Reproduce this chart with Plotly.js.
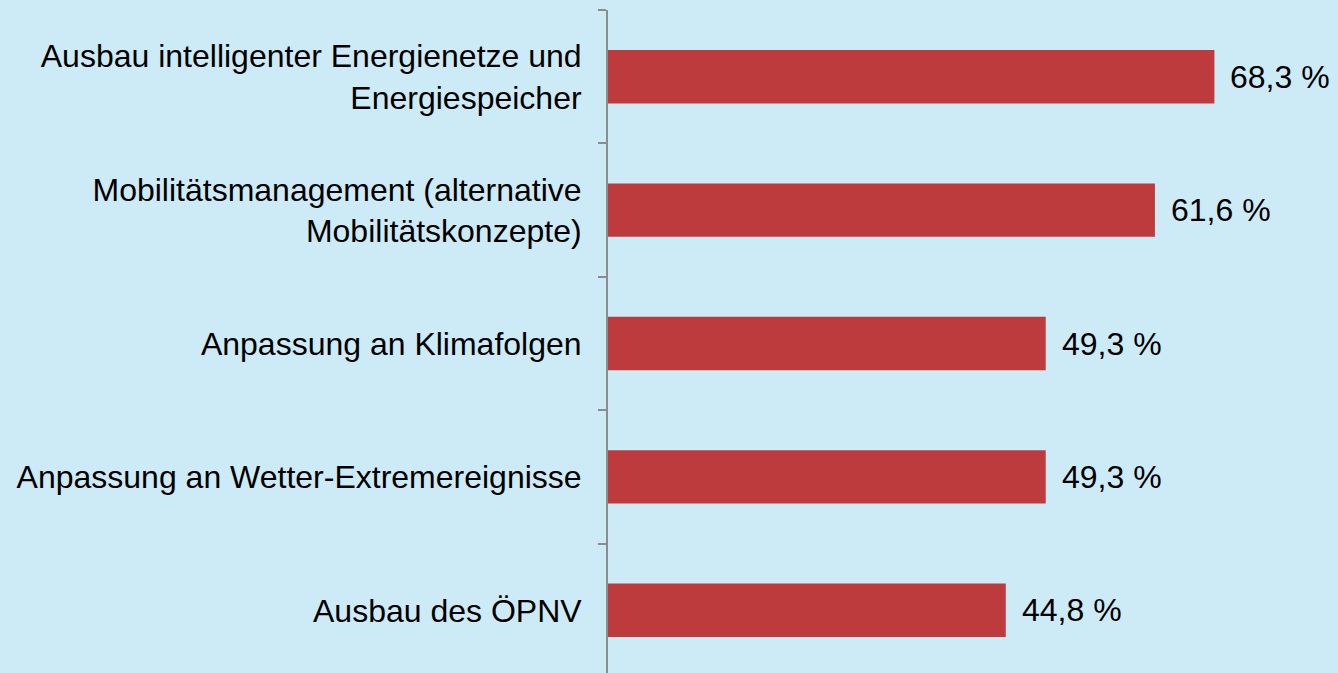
<!DOCTYPE html>
<html>
<head>
<meta charset="utf-8">
<script src="https://cdn.plot.ly/plotly-3.0.1.min.js"></script>
<style>
  html, body { margin: 0; padding: 0; background: #CDEBF7; }
  #chart { width: 1338px; height: 673px; }
</style>
</head>
<body>
<div id="chart"></div>
<script>
// Categories from top to bottom
const categories = [
  "Ausbau intelligenter Energienetze und<br>Energiespeicher",
  "Mobilitätsmanagement (alternative<br>Mobilitätskonzepte)",
  "Anpassung an Klimafolgen",
  "Anpassung an Wetter-Extremereignisse",
  "Ausbau des ÖPNV"
];
const values = [68.3, 61.6, 49.3, 49.3, 44.8];
const valueLabels = ["68,3 %", "61,6 %", "49,3 %", "49,3 %", "44,8 %"];

const FONT = "'Liberation Sans', Arial, sans-serif";

const trace = {
  type: "bar",
  orientation: "h",
  x: values,
  y: categories,
  marker: { color: "#BE3B3D", line: { width: 0 } },
  hoverinfo: "x+y"
};

const annotations = values.map((v, i) => ({
  x: v,
  y: categories[i],
  xref: "x",
  yref: "y",
  text: valueLabels[i],
  showarrow: false,
  xanchor: "left",
  yanchor: "middle",
  xshift: 14,
  font: { family: FONT, size: 32, color: "#000000" }
}));

const layout = {
  width: 1338,
  height: 673,
  paper_bgcolor: "#CDEBF7",
  plot_bgcolor: "#CDEBF7",
  margin: { l: 608, r: 65, t: 10, b: 0, pad: 0 },
  bargap: 0.6,
  showlegend: false,
  font: { family: FONT, size: 32, color: "#000000" },
  xaxis: {
    range: [0, 74.9],
    visible: false,
    showgrid: false,
    zeroline: false
  },
  yaxis: {
    type: "category",
    categoryorder: "array",
    categoryarray: categories,
    range: [4.47, -0.5],
    showline: true,
    linecolor: "#8C8C8C",
    linewidth: 2,
    ticks: "outside",
    tickson: "boundaries",
    ticklen: 8,
    tickwidth: 2,
    tickcolor: "#8C8C8C",
    ticklabelstandoff: 18,
    showgrid: false,
    zeroline: false,
    tickfont: { family: FONT, size: 32, color: "#000000" }
  },
  annotations: annotations
};

Plotly.newPlot("chart", [trace], layout, { displayModeBar: false, staticPlot: true });
</script>
</body>
</html>
